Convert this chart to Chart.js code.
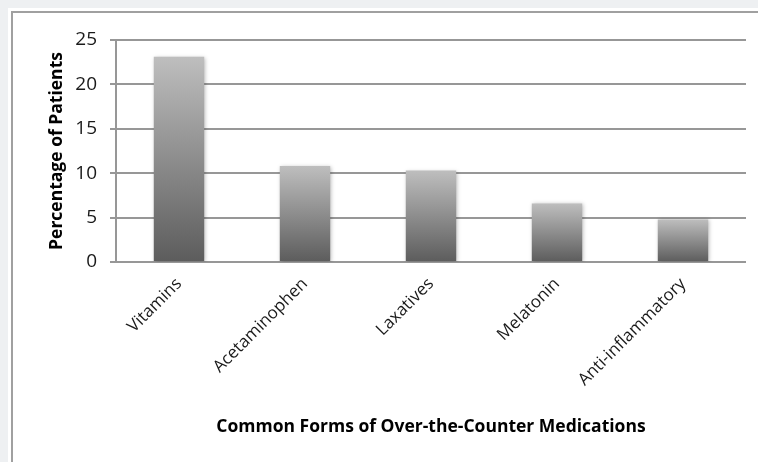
<!DOCTYPE html>
<html>
<head>
<meta charset="utf-8">
<script src="https://cdn.jsdelivr.net/npm/chart.js@4"></script>
<style>
  html, body { margin: 0; padding: 0; background: #eef0f2; }
  #wrap { width: 758px; height: 462px; }
</style>
</head>
<body>
<div id="wrap"><canvas id="c" width="758" height="462"></canvas></div>
<script>
const categories = ["Vitamins", "Acetaminophen", "Laxatives", "Melatonin", "Anti-inflammatory"];
const percentages = [23.1, 10.8, 10.3, 6.6, 4.8];
const yTicks = [0, 5, 10, 15, 20, 25];

const frame = {
  id: 'frame',
  beforeDraw(chart) {
    const ctx = chart.ctx;
    ctx.save();
    ctx.fillStyle = '#eef0f2';
    ctx.fillRect(0, 0, chart.width, chart.height);
    ctx.fillStyle = '#ffffff';
    ctx.fillRect(8, 8, chart.width - 8, chart.height - 8);
    ctx.strokeStyle = '#a0a0a0';
    ctx.lineWidth = 2;
    ctx.beginPath();
    ctx.moveTo(12, chart.height);
    ctx.lineTo(12, 12);
    ctx.lineTo(chart.width, 12);
    ctx.stroke();
    ctx.restore();
  }
};

const shadow = {
  id: 'shadow',
  beforeDatasetsDraw(chart) {
    const ctx = chart.ctx;
    ctx.save();
    ctx.shadowColor = 'rgba(0,0,0,0.28)';
    ctx.shadowBlur = 4;
    ctx.shadowOffsetX = 1;
    ctx.shadowOffsetY = 1;
  },
  afterDatasetsDraw(chart) {
    chart.ctx.restore();
  }
};

function barGradient(context) {
  const chart = context.chart;
  if (!chart.chartArea || context.parsed === undefined) return '#8a8a8a';
  const y = chart.scales.y;
  const top = y.getPixelForValue(context.parsed.y);
  const bottom = y.getPixelForValue(0);
  const g = chart.ctx.createLinearGradient(0, top, 0, bottom);
  g.addColorStop(0, '#bebebe');
  g.addColorStop(1, '#5c5c5c');
  return g;
}

new Chart(document.getElementById('c'), {
  type: 'bar',
  data: {
    labels: categories,
    datasets: [{
      data: percentages,
      backgroundColor: barGradient,
      borderWidth: 0,
      barPercentage: 0.4,
      categoryPercentage: 1.0
    }]
  },
  options: {
    responsive: false,
    animation: false,
    layout: { padding: { left: 0, top: 40, right: 12, bottom: 0 } },
    plugins: { legend: { display: false }, tooltip: { enabled: false } },
    scales: {
      x: {
        grid: { display: false, drawTicks: false },
        border: { display: false },
        ticks: {
          minRotation: 45, maxRotation: 45,
          padding: 12,
          color: '#1a1a1a',
          font: { family: 'Open Sans', size: 17 }
        },
        title: {
          display: true,
          text: 'Common Forms of Over-the-Counter Medications',
          color: '#000',
          font: { family: 'Open Sans', size: 17.5, weight: 'bold' },
          padding: { top: 0, bottom: 24 }
        },
        afterFit(scale) { scale.height = 200; }
      },
      y: {
        min: 0, max: 25,
        afterBuildTicks(scale) { scale.ticks = yTicks.map(v => ({ value: v })); },
        grid: { color: '#979797', lineWidth: 2, tickLength: 6, drawTicks: true },
        border: { display: true, color: '#979797', width: 2 },
        ticks: {
          padding: 13,
          color: '#1a1a1a',
          font: { family: 'Open Sans', size: 19 }
        },
        title: {
          display: true,
          text: 'Percentage of Patients',
          color: '#000',
          font: { family: 'Open Sans', size: 17.5, weight: 'bold' },
          padding: { top: 47, bottom: 0 }
        },
        afterFit(scale) { scale.width = 116; }
      }
    }
  },
  plugins: [frame, shadow]
});
</script>
</body>
</html>
